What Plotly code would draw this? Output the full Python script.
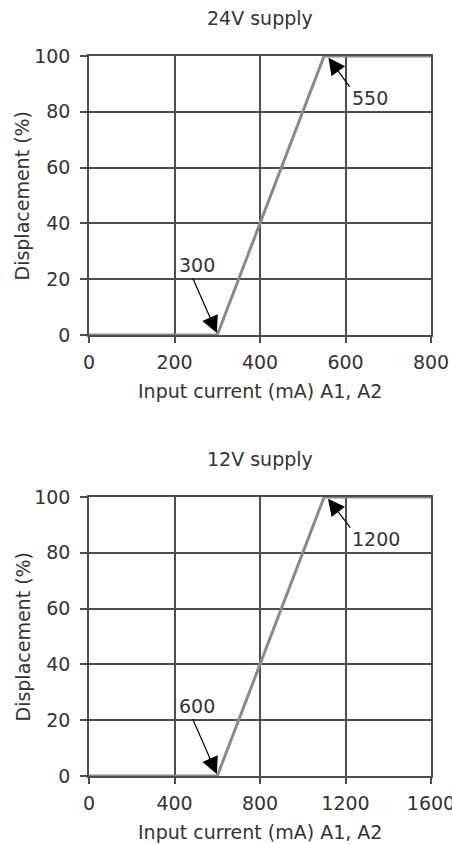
import plotly.graph_objects as go

# Data
x_24v = [0, 300, 550, 800]
y_24v = [0, 0, 100, 100]
x_12v = [0, 600, 1100, 1600]
y_12v = [0, 0, 100, 100]
x_ticks_24v = [0, 200, 400, 600, 800]
x_ticks_12v = [0, 400, 800, 1200, 1600]
y_ticks = [0, 20, 40, 60, 80, 100]
titles = ["24V supply", "12V supply"]
x_title = "Input current (mA) A1, A2"
y_title = "Displacement (%)"

FONT = "DejaVu Sans"
FS = 19
TXT = "#333333"
GRID = "#4d4d4d"
LINE = "#8a8a8a"

fig = go.Figure()
fig.add_trace(go.Scatter(x=x_24v, y=y_24v, mode="lines", line=dict(color=LINE, width=3),
                         xaxis="x", yaxis="y", cliponaxis=False, showlegend=False))
fig.add_trace(go.Scatter(x=x_12v, y=y_12v, mode="lines", line=dict(color=LINE, width=3),
                         xaxis="x2", yaxis="y2", cliponaxis=False, showlegend=False))

def xax(ticks, anchor):
    return dict(range=[ticks[0], ticks[-1]], tickvals=ticks, ticktext=[str(t) for t in ticks],
                showgrid=True, gridcolor=GRID, gridwidth=1.5, zeroline=False,
                showline=True, linecolor=GRID, linewidth=1.5, mirror=True,
                ticks="outside", ticklen=6, tickcolor=GRID, tickwidth=1.5, ticklabelstandoff=3,
                ticklabeloverflow="allow",
                tickfont=dict(family=FONT, size=FS, color=TXT), automargin=False,
                anchor=anchor, domain=[0, 1])

def yax(domain, anchor):
    return dict(range=[0, 100], tickvals=y_ticks, domain=domain, anchor=anchor,
                showgrid=True, gridcolor=GRID, gridwidth=1.5, zeroline=False,
                showline=True, linecolor=GRID, linewidth=1.5, mirror=True,
                ticks="outside", ticklen=7, tickcolor=GRID, tickwidth=1.5, ticklabelstandoff=6,
                ticklabeloverflow="allow",
                tickfont=dict(family=FONT, size=FS, color=TXT), automargin=False)

fig.update_layout(
    width=452, height=844,
    margin=dict(l=89, r=21, t=56, b=68),
    paper_bgcolor="white", plot_bgcolor="white",
    xaxis=xax(x_ticks_24v, "y"),
    yaxis=yax([0.6125, 1.0], "x"),
    xaxis2=xax(x_ticks_12v, "y2"),
    yaxis2=yax([0.0, 0.3875], "x2"),
)

ann = []
for t, top, bot in zip(titles, [1.0, 0.3875], [0.6125, 0.0]):
    mid = (top + bot) / 2
    ann.append(dict(text=t, xref="paper", yref="paper", x=0.5, y=top, yshift=38,
                    showarrow=False, font=dict(family=FONT, size=FS, color=TXT), xanchor="center", yanchor="middle"))
    ann.append(dict(text=x_title, xref="paper", yref="paper", x=0.5, y=bot, yshift=-56,
                    showarrow=False, font=dict(family=FONT, size=FS, color=TXT), xanchor="center", yanchor="middle"))
    ann.append(dict(text=y_title, xref="paper", yref="paper", x=0, xshift=-67, y=mid, textangle=-90,
                    showarrow=False, font=dict(family=FONT, size=FS, color=TXT), xanchor="center", yanchor="middle"))

def callout(xr, yr, label, tx, ty, tipx, tipy, tailx, taily):
    ann.append(dict(text=label, xref=xr, yref=yr, x=tx, y=ty, showarrow=False,
                    font=dict(family=FONT, size=FS, color=TXT)))
    ann.append(dict(text="", xref=xr, yref=yr, axref=xr, ayref=yr, x=tipx, y=tipy, ax=tailx, ay=taily,
                    showarrow=True, arrowhead=2, arrowsize=2.8, arrowwidth=1.2, arrowcolor="black"))

callout("x", "y", "300", 252, 25, 299, 0.7, 241, 21)
callout("x", "y", "550", 658, 85, 560, 99.4, 612, 88.5)
callout("x2", "y2", "600", 504, 25, 598, 0.7, 482, 21)
callout("x2", "y2", "1200", 1345, 85, 1118, 99.4, 1228, 88.5)

fig.update_layout(annotations=ann)
# remove the page's default body margin so the figure sits at the window's top-left corner
fig.write_html("out.html", config={"displayModeBar": False},
               post_script="document.body.style.margin='0';document.body.style.overflow='hidden';")
